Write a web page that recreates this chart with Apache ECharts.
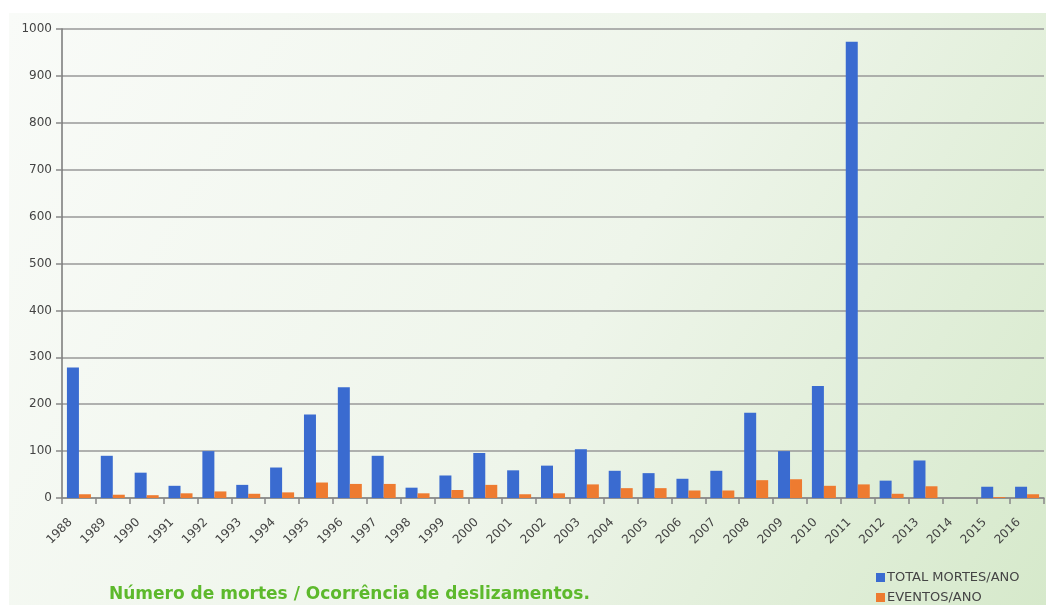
<!DOCTYPE html>
<html>
<head>
<meta charset="utf-8">
<script src="https://cdn.jsdelivr.net/npm/echarts@6/dist/echarts.min.js"></script>
<style>
  html, body { margin: 0; padding: 0; background: #fff; }
  #myCharts { width: 1046px; height: 605px; }
</style>
</head>
<body>
<div id="myCharts"></div>
<script>
// dados
const anos = ["1988", "1989", "1990", "1991", "1992", "1993", "1994", "1995", "1996", "1997",
  "1998", "1999", "2000", "2001", "2002", "2003", "2004", "2005", "2006", "2007",
  "2008", "2009", "2010", "2011", "2012", "2013", "2014", "2015", "2016"];
const totalMortes = [278, 90, 54, 26, 100, 28, 65, 178, 236, 90,
  22, 48, 96, 59, 69, 104, 58, 53, 41, 58,
  182, 100, 239, 973, 37, 80, 0, 24, 24];
const eventos = [8, 7, 6, 10, 14, 9, 12, 33, 30, 30,
  10, 17, 28, 8, 10, 29, 21, 21, 16, 16,
  38, 40, 26, 29, 9, 25, 0, 2, 8];
const yMin = 0, yMax = 1000, yStep = 100;

const myCharts = echarts.init(document.getElementById("myCharts"));
const fonte = "'DejaVu Sans', Verdana, sans-serif";

// legenda em duas linhas (uma por série)
const legendaBase = {
  left: 871,
  itemWidth: 9,
  itemHeight: 9,
  icon: "rect",
  textStyle: { color: "#444", fontSize: 13, fontFamily: fonte, padding: [0, 0, 0, -3] }
};

let option = {
  animation: false,
  textStyle: { fontFamily: fonte },
  graphic: [
    {
      type: "rect",
      z: -10,
      silent: true,
      shape: { x: 9, y: 13, width: 1037, height: 592 },
      style: {
        fill: new echarts.graphic.LinearGradient(0, 0, 1, 1, [
          { offset: 0, color: "#f9fbf8" },
          { offset: 0.55, color: "#eef5ea" },
          { offset: 1, color: "#d6e9cb" }
        ])
      }
    }
  ],
  title: {
    text: "Número de mortes / Ocorrência de deslizamentos.",
    left: 104,
    top: 581,
    textStyle: {
      color: "#5db92c",
      fontSize: 17,
      fontWeight: "bold",
      fontFamily: fonte
    }
  },
  legend: [
    Object.assign({}, legendaBase, { top: 566, data: ["TOTAL MORTES/ANO"] }),
    Object.assign({}, legendaBase, { top: 586, data: ["EVENTOS/ANO"] })
  ],
  grid: {
    left: 62,
    right: 2,
    top: 29,
    bottom: 107
  },
  xAxis: {
    type: "category",
    data: anos,
    axisLine: { lineStyle: { color: "#888", width: 1.5 } },
    axisTick: { show: true, length: 6, lineStyle: { color: "#888", width: 1.5 } },
    axisLabel: {
      interval: 0,
      rotate: 45,
      margin: 14,
      padding: [0, 12, 0, 0],
      color: "#444",
      fontSize: 12,
      fontFamily: fonte
    }
  },
  yAxis: {
    type: "value",
    min: yMin,
    max: yMax,
    interval: yStep,
    axisLine: { show: true, lineStyle: { color: "#777", width: 1.5 } },
    axisTick: { show: true, length: 6, lineStyle: { color: "#888", width: 1.5 } },
    axisLabel: {
      color: "#444",
      fontSize: 12,
      margin: 10,
      fontFamily: fonte,
      formatter: v => String(v)
    },
    splitLine: { lineStyle: { color: "#999", width: 1.5 } }
  },
  series: [
    {
      name: "TOTAL MORTES/ANO",
      type: "bar",
      data: totalMortes,
      barWidth: 12,
      barGap: "0%",
      itemStyle: { color: "#3a6bd0" }
    },
    {
      name: "EVENTOS/ANO",
      type: "bar",
      data: eventos,
      barWidth: 12,
      itemStyle: { color: "#ee7b30" }
    }
  ]
};
myCharts.setOption(option);
</script>
</body>
</html>
